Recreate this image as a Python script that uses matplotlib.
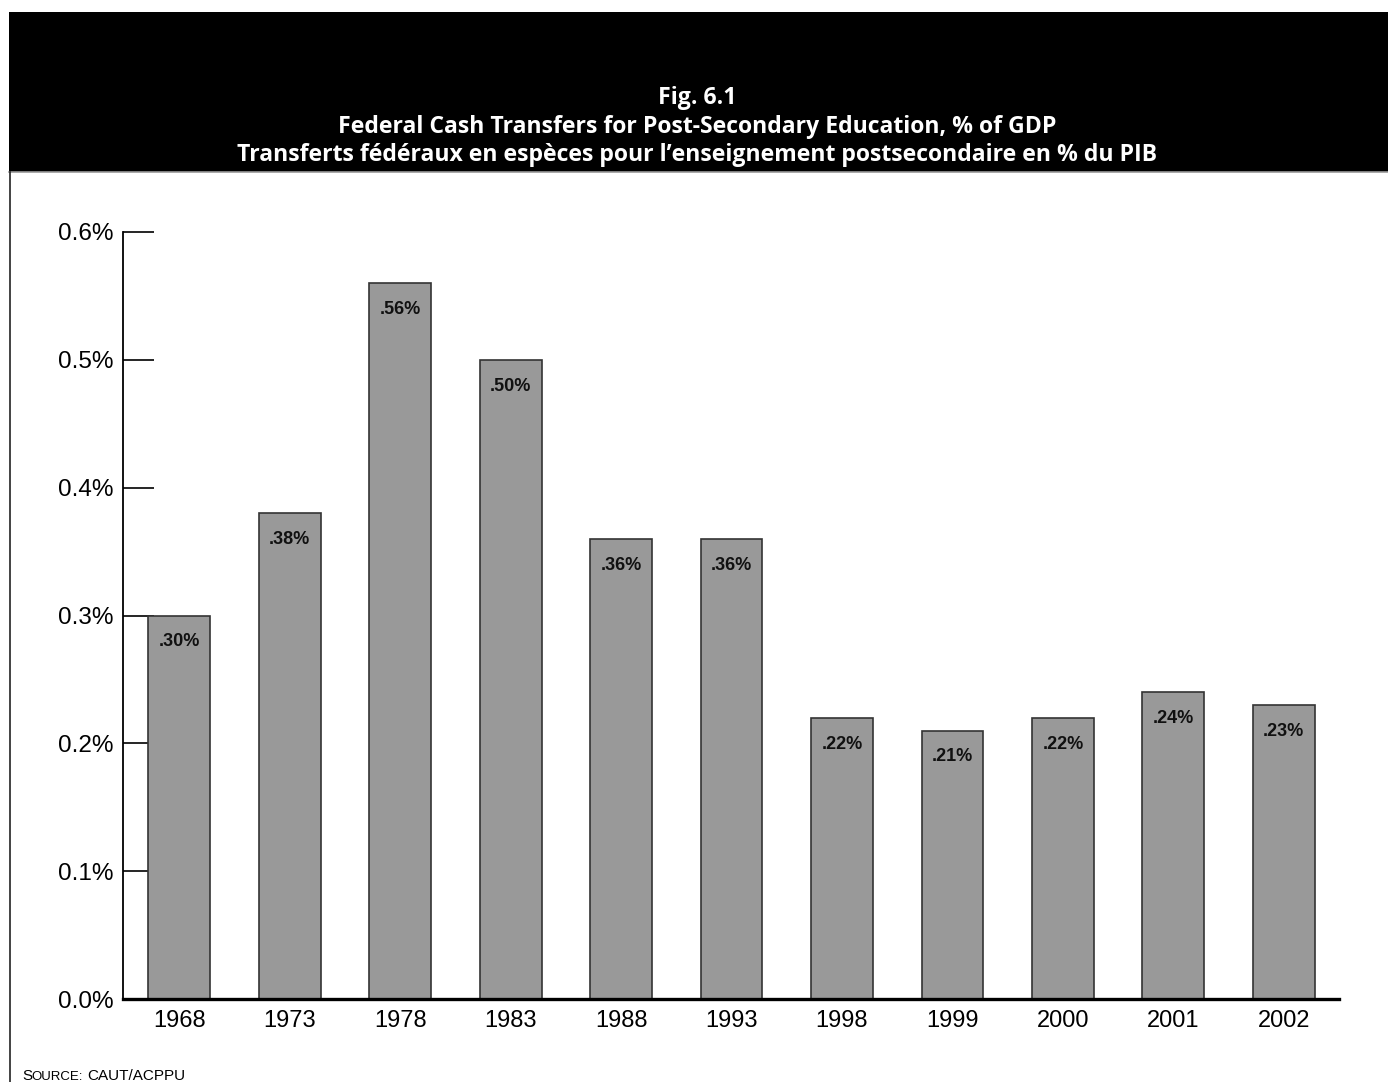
import matplotlib
matplotlib.use('Agg')
import matplotlib.pyplot as plt
from matplotlib.patches import Rectangle
from matplotlib.lines import Line2D

years = ['1968', '1973', '1978', '1983', '1988', '1993',
         '1998', '1999', '2000', '2001', '2002']
share = [0.30, 0.38, 0.56, 0.50, 0.36, 0.36, 0.22, 0.21, 0.22, 0.24, 0.23]
bar_labels = ['.30%', '.38%', '.56%', '.50%', '.36%', '.36%',
              '.22%', '.21%', '.22%', '.24%', '.23%']
yticks = [0.0, 0.1, 0.2, 0.3, 0.4, 0.5, 0.6]
title_lines = ['Fig. 6.1',
               'Federal Cash Transfers for Post-Secondary Education, % of GDP',
               'Transferts f\u00e9d\u00e9raux en esp\u00e8ces pour l\u2019enseignement postsecondaire en % du PIB']

W, H = 1388, 1082
fig = plt.figure(figsize=(W / 100, H / 100), dpi=100)

# black header band
fig.patches.append(Rectangle((9 / W, 1 - 172 / H), 1, 160 / H, transform=fig.transFigure,
                             facecolor='black', edgecolor='none', zorder=0))
fig.lines.append(Line2D([9 / W, 1], [1 - 172 / H, 1 - 172 / H], transform=fig.transFigure,
                        color='#999999', lw=1.2))
fig.lines.append(Line2D([10 / W, 10 / W], [0, 1 - 172 / H], transform=fig.transFigure,
                        color='#222222', lw=1.2))

title_font = ['Open Sans', 'DejaVu Sans']
for txt, yp in zip(title_lines, [98, 127, 155]):
    fig.text(697 / W, 1 - yp / H, txt, ha='center', va='center', color='white',
             fontsize=16.6, fontweight='bold', family=title_font)

ax = fig.add_axes([123 / W, 1 - 999 / H, (1339 - 123) / W, (999 - 232) / H])
x = range(len(years))
ax.bar(x, share, width=0.56, color='#999999', edgecolor='#333333', linewidth=1.2, zorder=2)

narrow = ['Liberation Sans Narrow', 'Liberation Sans', 'DejaVu Sans']
for i, (v, lab) in enumerate(zip(share, bar_labels)):
    ax.annotate(lab, (i, v), xytext=(0, -19), textcoords='offset points',
                ha='center', va='center', fontsize=13, fontweight='bold',
                family=narrow, color='#111111', zorder=3)

ax.set_xlim(-0.51, 10.5)
ax.set_ylim(0, 0.6)
ax.set_yticks(yticks)
ax.set_yticklabels(['%.1f%%' % t for t in yticks])
ax.set_xticks(list(x))
ax.set_xticklabels(years)
ax.tick_params(axis='y', direction='in', length=22, width=1.2, pad=7,
               labelsize=17.5)
ax.tick_params(axis='x', length=0, pad=8, labelsize=17)
for lab in ax.get_xticklabels() + ax.get_yticklabels():
    lab.set_family(['Liberation Sans', 'DejaVu Sans'])
ax.spines['top'].set_visible(False)
ax.spines['right'].set_visible(False)
ax.spines['left'].set_linewidth(1.3)
ax.spines['bottom'].set_linewidth(2.4)
ax.spines['bottom'].set_zorder(4)

# source line in small caps
src_font = ['Liberation Sans', 'DejaVu Sans']
fig.text(22 / W, 1 - 1076 / H, 'S', fontsize=11, family=src_font, va='center', ha='left')
fig.text(31 / W, 1 - 1077 / H, 'OURCE:', fontsize=9.5, family=src_font, va='center', ha='left')
fig.text(87 / W, 1 - 1076 / H, 'CAUT/ACPPU', fontsize=11, family=src_font, va='center', ha='left')

fig.savefig('out.png', dpi=100)
